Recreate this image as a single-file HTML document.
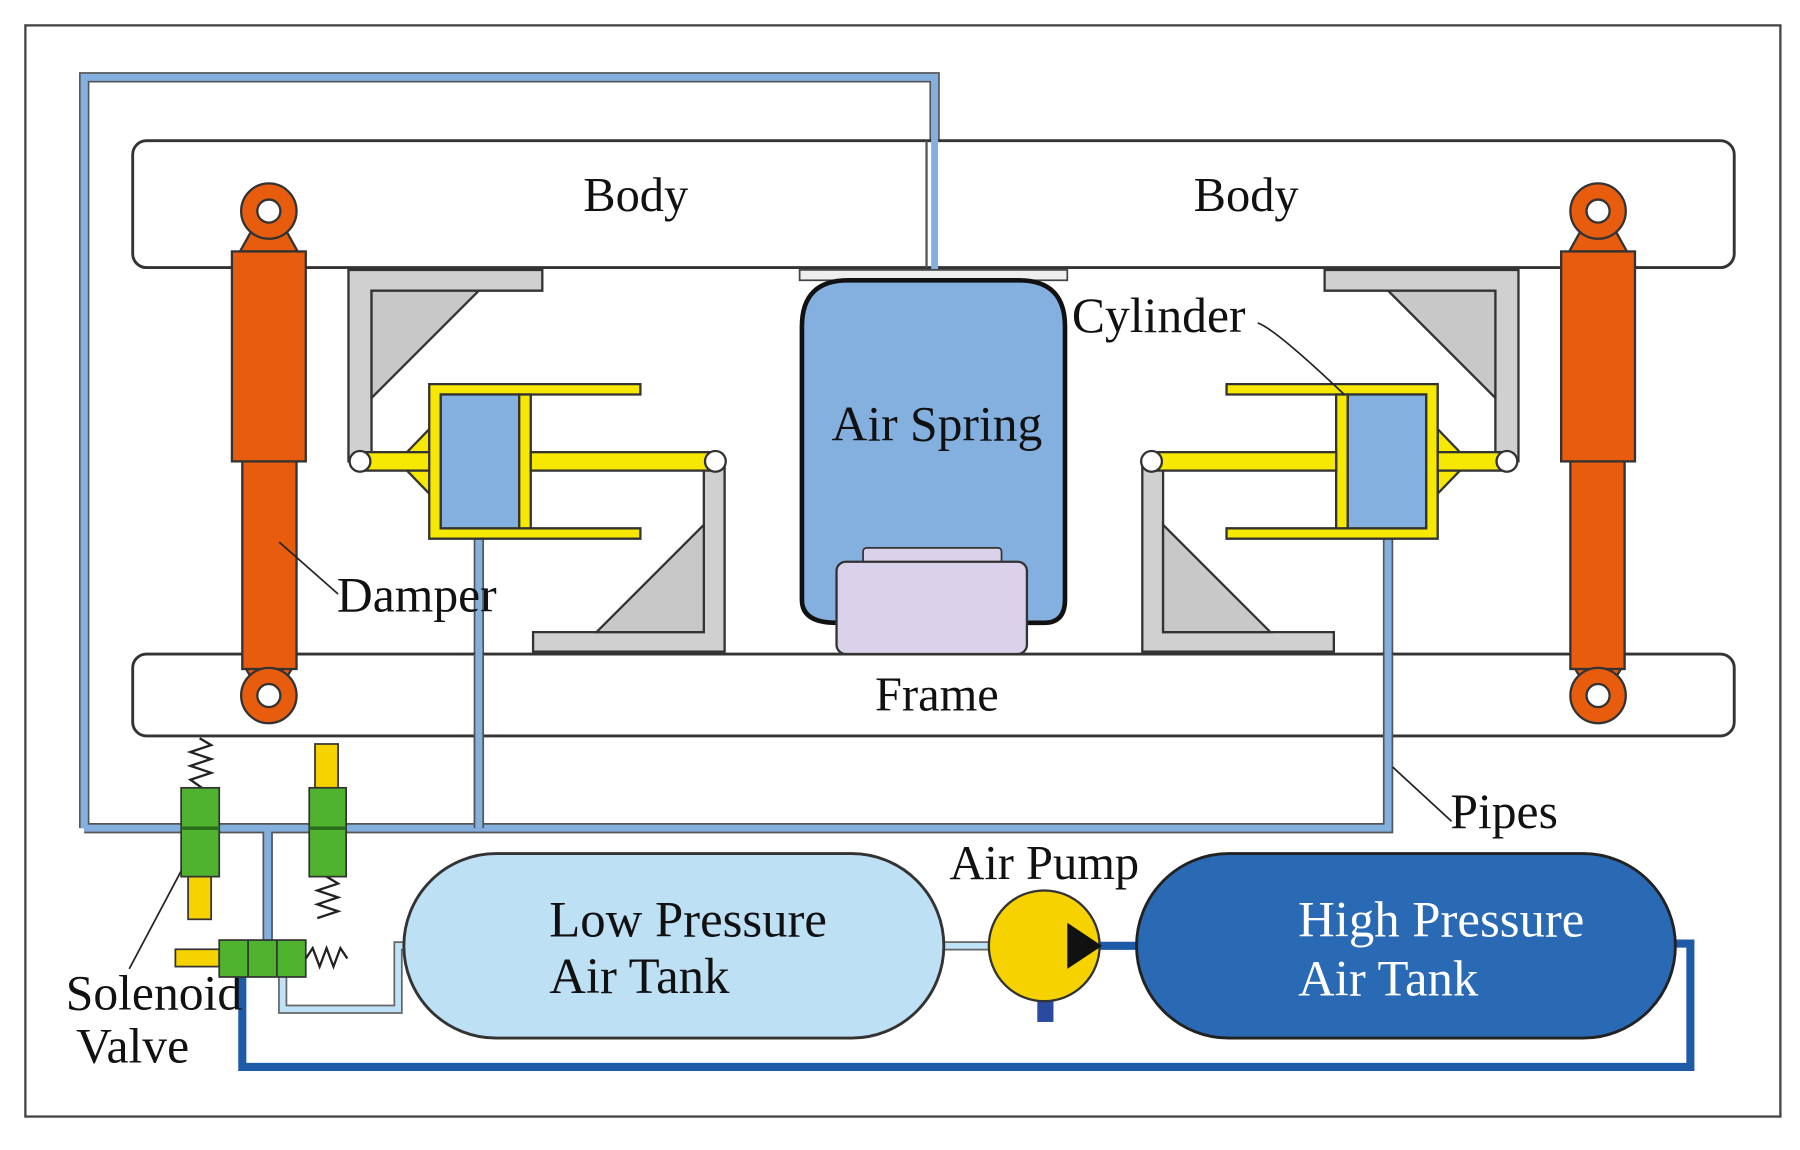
<!DOCTYPE html>
<html><head><meta charset="utf-8"><style>html,body{margin:0;padding:0;background:#fff}svg{display:block}</style></head>
<body>
<svg width="1800" height="1150" viewBox="0 0 1560 997" preserveAspectRatio="none" xmlns="http://www.w3.org/2000/svg" font-family="Liberation Serif, serif">
<rect x="0" y="0" width="1560" height="997" fill="#fff"/>
<rect x="22" y="22" width="1521" height="946" fill="none" stroke="#444" stroke-width="2"/>

<g fill="none" stroke-linejoin="miter">
<path d="M73,718 V67 H810 V237" stroke="#555" stroke-width="9"/>
<path d="M73,718 V67 H810 V237" stroke="#84b0e0" stroke-width="6"/>
<path d="M73,718 H1203 V465 M415,465 V718 M232,718 V820" stroke="#555" stroke-width="9"/>
<path d="M73,718 H1203 V465 M415,465 V718 M232,718 V820" stroke="#84b0e0" stroke-width="6"/>
<path d="M245,845 V875 H345 V820 H355 M815,820 H860" stroke="#666" stroke-width="8"/>
<path d="M245,845 V875 H345 V820 H355 M815,820 H860" stroke="#c0e2f6" stroke-width="5"/>
<path d="M210,847 V925 H1465 V818 H1448 M950,820 H990" stroke="#1d5aa8" stroke-width="7"/>
</g>

<rect x="115" y="122" width="1388" height="110" rx="12" fill="#fff" stroke="#333" stroke-width="2.5"/>
<line x1="803" y1="122" x2="803" y2="232" stroke="#555" stroke-width="2"/>
<path d="M73,718 V67 H810 V237" fill="none" stroke="#84b0e0" stroke-width="6"/>
<rect x="115" y="567" width="1388" height="71" rx="12" fill="#fff" stroke="#333" stroke-width="2.5"/>
<path d="M415,567 V718 M1203,567 V640" stroke="#555" stroke-width="9"/>
<path d="M415,560 V718 M1203,560 V645" stroke="#84b0e0" stroke-width="6"/>
<text x="551" y="183" font-size="42" text-anchor="middle" fill="#111">Body</text>
<text x="1080" y="183" font-size="42" text-anchor="middle" fill="#111">Body</text>
<text x="812" y="616" font-size="42" text-anchor="middle" fill="#111">Frame</text>

<g id="side">
 <path d="M218,200 L248,200 L258,218 L208,218 Z" fill="#e85c0d" stroke="#333" stroke-width="2"/>
 <circle cx="233" cy="183" r="24" fill="#e85c0d" stroke="#333" stroke-width="2"/>
 <circle cx="233" cy="183" r="10" fill="#fff" stroke="#333" stroke-width="2"/>
 <path d="M212,578 L254,578 L248,588 L218,588 Z" fill="#e85c0d" stroke="#333" stroke-width="2"/>
 <rect x="210" y="395" width="47" height="185" fill="#e85c0d" stroke="#333" stroke-width="2"/>
 <circle cx="233" cy="603" r="24" fill="#e85c0d" stroke="#333" stroke-width="2"/>
 <circle cx="233" cy="603" r="10" fill="#fff" stroke="#333" stroke-width="2"/>
 <rect x="201" y="218" width="64" height="182" fill="#e85c0d" stroke="#333" stroke-width="2"/>
 <path d="M302,234 H470 V252 H322 V400 H302 Z" fill="#d0d0d0" stroke="#333" stroke-width="2"/>
 <path d="M322,252 H415 L322,345 Z" fill="#c8c8c8" stroke="#333" stroke-width="2"/>
 <path d="M628,400 V565 H462 V548 H610 V400 Z" fill="#d0d0d0" stroke="#333" stroke-width="2"/>
 <path d="M610,455 V548 H517 Z" fill="#c8c8c8" stroke="#333" stroke-width="2"/>
 <path d="M345,400 L372,372 V428 Z" fill="#f6e800" stroke="#333" stroke-width="2"/>
 <rect x="312" y="392" width="62" height="16" fill="#f6e800" stroke="#333" stroke-width="2"/>
 <path d="M372,333 H555 V342 H382 V458 H555 V467 H372 Z" fill="#f6e800" stroke="#333" stroke-width="2"/>
 <rect x="382" y="342" width="68" height="116" fill="#84b0e0" stroke="#333" stroke-width="2"/>
 <rect x="450" y="342" width="10" height="116" fill="#f6e800" stroke="#333" stroke-width="2"/>
 <rect x="460" y="392" width="162" height="16" fill="#f6e800" stroke="#333" stroke-width="2"/>
 <circle cx="312" cy="400" r="9" fill="#fff" stroke="#333" stroke-width="2"/>
 <circle cx="620" cy="400" r="9" fill="#fff" stroke="#333" stroke-width="2"/>
</g>
<use href="#side" transform="translate(1618,0) scale(-1,1)"/>
<path d="M1203,470 V567" stroke="#84b0e0" stroke-width="6"/>

<rect x="693" y="234" width="232" height="9" fill="#eee" stroke="#444" stroke-width="1.5"/>
<path d="M735,243 H883 Q923,243 923,283 V520 Q923,540 905,540 L725,540 Q695,540 695,520 V283 Q695,243 735,243 Z" fill="#84b0e0" stroke="#111" stroke-width="4"/>
<rect x="748" y="475" width="120" height="14" rx="3" fill="#d9d2ea" stroke="#333" stroke-width="1.5"/>
<rect x="725" y="487" width="165" height="80" rx="8" fill="#d9d2ea" stroke="#333" stroke-width="2"/>
<text x="812" y="382" font-size="43" text-anchor="middle" fill="#111">Air Spring</text>

<text x="929" y="288" font-size="43" fill="#111">Cylinder</text>
<path d="M1090,280 Q1105,285 1165,342" fill="none" stroke="#222" stroke-width="1.5"/>
<text x="292" y="530" font-size="43" fill="#111">Damper</text>
<path d="M242,470 L293,515" stroke="#222" stroke-width="1.5"/>
<text x="1257" y="718" font-size="43" fill="#111">Pipes</text>
<path d="M1207,665 L1258,712" stroke="#222" stroke-width="1.5"/>
<text x="57" y="875" font-size="43" fill="#111">Solenoid</text>
<text x="66" y="921" font-size="43" fill="#111">Valve</text>
<path d="M165,740 L112,840" stroke="#222" stroke-width="1.5"/>

<rect x="350" y="740" width="468" height="160" rx="80" fill="#bde0f5" stroke="#333" stroke-width="2.5"/>
<text x="476" y="812" font-size="44" fill="#111">Low Pressure</text>
<text x="476" y="861" font-size="44" fill="#111">Air Tank</text>
<rect x="985" y="740" width="467" height="160" rx="80" fill="#2a6ab5" stroke="#222" stroke-width="2.5"/>
<text x="1125" y="812" font-size="44" fill="#fff">High Pressure</text>
<text x="1125" y="863" font-size="44" fill="#fff">Air Tank</text>

<text x="905" y="762" font-size="42" text-anchor="middle" fill="#111">Air Pump</text>
<rect x="899" y="866" width="14" height="20" fill="#2a4aa0"/>
<circle cx="905" cy="820" r="48" fill="#f6d200" stroke="#333" stroke-width="2"/>
<path d="M925,800 L955,820 L925,840 Z" fill="#111"/>

<g stroke="#333" stroke-width="1.5">
 <polyline points="173,640 183,646 165,652 183,658 165,664 183,670 165,676 175,683" fill="none" stroke="#222" stroke-width="2"/>
 <rect x="163" y="760" width="20" height="37" fill="#f6d200"/>
 <rect x="157" y="683" width="33" height="77" fill="#4fb32f"/>
 <line x1="157" y1="718" x2="190" y2="718" stroke="#2a6a1a" stroke-width="3"/>
 <rect x="273" y="645" width="20" height="38" fill="#f6d200"/>
 <polyline points="283,760 293,766 275,772 293,778 275,784 293,790 275,796" fill="none" stroke="#222" stroke-width="2"/>
 <rect x="268" y="683" width="32" height="77" fill="#4fb32f"/>
 <line x1="268" y1="718" x2="300" y2="718" stroke="#2a6a1a" stroke-width="3"/>
 <rect x="152" y="823" width="38" height="15" fill="#f6d200"/>
 <rect x="190" y="815" width="75" height="32" fill="#4fb32f"/>
 <line x1="215" y1="815" x2="215" y2="847"/><line x1="240" y1="815" x2="240" y2="847"/>
 <polyline points="265,831 271,822 277,838 283,822 289,838 295,822 301,831" fill="none" stroke="#222" stroke-width="2"/>
</g>
</svg>
</body></html>
